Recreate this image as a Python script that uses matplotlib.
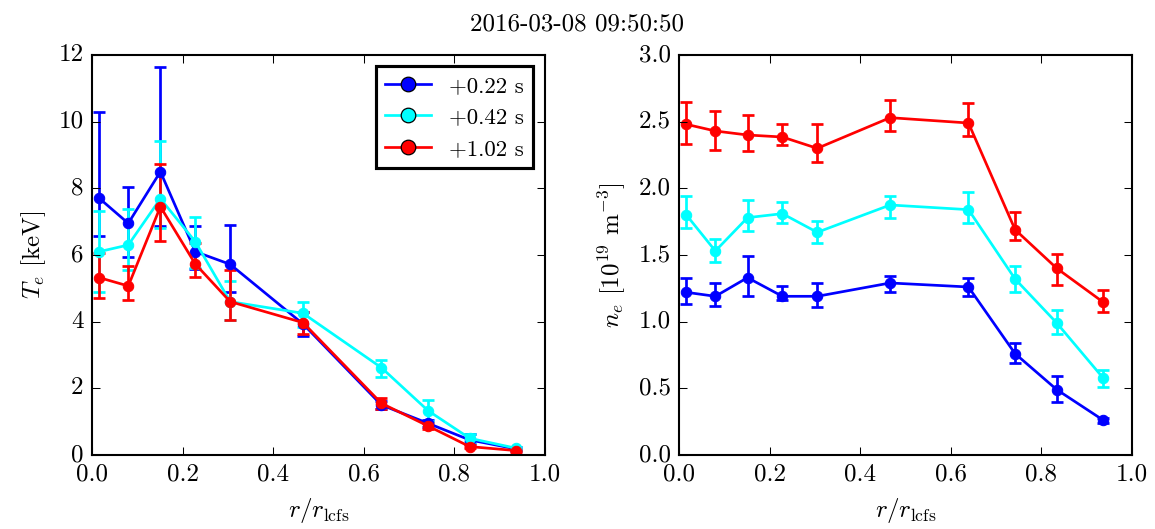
import matplotlib
matplotlib.use("Agg")
import matplotlib.pyplot as plt
from matplotlib.lines import Line2D

# radial positions (normalised)
r = [0.016, 0.080, 0.151, 0.228, 0.305, 0.466, 0.639, 0.742, 0.834, 0.937]

labels = ["+0.22 s", "+0.42 s", "+1.02 s"]
colors = ["#0000FF", "#00FFFF", "#FF0000"]

# electron temperature [keV]
te = [
    [7.70, 6.95, 8.50, 6.10, 5.72, 3.93, 1.50, 0.95, 0.45, 0.18],
    [6.10, 6.30, 7.69, 6.40, 4.60, 4.25, 2.62, 1.33, 0.50, 0.20],
    [5.32, 5.07, 7.45, 5.73, 4.60, 3.97, 1.55, 0.87, 0.25, 0.13],
]
te_lo = [
    [1.12, 1.02, 1.63, 0.53, 0.82, 0.36, 0.12, 0.10, 0.12, 0.05],
    [1.20, 0.75, 0.89, 0.80, 0.55, 0.40, 0.29, 0.30, 0.12, 0.05],
    [0.62, 0.42, 1.02, 0.40, 0.55, 0.35, 0.18, 0.08, 0.05, 0.03],
]
te_hi = [
    [2.58, 1.10, 3.13, 0.77, 1.18, 0.36, 0.12, 0.10, 0.17, 0.05],
    [1.23, 1.07, 1.73, 0.75, 0.62, 0.35, 0.23, 0.32, 0.12, 0.05],
    [0.75, 0.61, 1.28, 0.62, 0.95, 0.31, 0.17, 0.08, 0.05, 0.03],
]

# electron density [1e19 m^-3]
ne = [
    [1.22, 1.19, 1.33, 1.19, 1.19, 1.29, 1.26, 0.76, 0.49, 0.26],
    [1.80, 1.53, 1.78, 1.81, 1.67, 1.875, 1.84, 1.32, 0.99, 0.575],
    [2.48, 2.43, 2.40, 2.385, 2.30, 2.53, 2.49, 1.69, 1.40, 1.145],
]
ne_lo = [
    [0.09, 0.07, 0.14, 0.03, 0.08, 0.07, 0.07, 0.07, 0.09, 0.02],
    [0.10, 0.08, 0.10, 0.07, 0.08, 0.095, 0.10, 0.095, 0.08, 0.065],
    [0.15, 0.14, 0.12, 0.06, 0.10, 0.10, 0.10, 0.08, 0.125, 0.075],
]
ne_hi = [
    [0.11, 0.10, 0.16, 0.08, 0.10, 0.055, 0.07, 0.08, 0.10, 0.02],
    [0.14, 0.09, 0.13, 0.09, 0.085, 0.065, 0.13, 0.10, 0.10, 0.065],
    [0.17, 0.15, 0.15, 0.095, 0.18, 0.13, 0.15, 0.13, 0.11, 0.095],
]

plt.style.use("classic")
plt.rcParams["font.family"] = "serif"
plt.rcParams["font.serif"] = ["cmr10"]
plt.rcParams["mathtext.fontset"] = "cm"
plt.rcParams["axes.unicode_minus"] = False
plt.rcParams["font.size"] = 12

fig = plt.figure(figsize=(7.7, 529 / 150), dpi=150)
fig.patch.set_facecolor("white")
ax1 = fig.add_axes([0.0797, 0.140, 0.392, 0.756])
ax2 = fig.add_axes([0.588, 0.140, 0.392, 0.756])

for i in range(3):
    ax1.errorbar(r, te[i], yerr=[te_lo[i], te_hi[i]], color=colors[i],
                 ecolor=colors[i], marker="o", mec=colors[i], ms=5, lw=1.3,
                 elinewidth=1.3, capsize=3, capthick=1.3)
    ax2.errorbar(r, ne[i], yerr=[ne_lo[i], ne_hi[i]], color=colors[i],
                 ecolor=colors[i], marker="o", mec=colors[i], ms=5, lw=1.3,
                 elinewidth=1.3, capsize=3, capthick=1.3)

ax1.set_xlim(0, 1)
ax1.set_ylim(0, 12)
ax2.set_xlim(0, 1)
ax2.set_ylim(0, 3)
ax1.set_xlabel(r"$r/r_\mathrm{lcfs}$")
ax2.set_xlabel(r"$r/r_\mathrm{lcfs}$")
ax1.set_ylabel(r"$T_e$ [keV]")
ax2.set_ylabel(r"$n_e$ [$10^{19}$ m$^{-3}$]")

handles = [Line2D([], [], color=c, marker="o", mec="k", mew=0.6, ms=7, lw=1.3)
           for c in colors]
leg = ax1.legend(handles, labels, loc="upper right", numpoints=1,
                 fancybox=False, fontsize=11, borderaxespad=0.5,
                 handlelength=2.0, handletextpad=0.8, labelspacing=0.5)
leg.get_frame().set_linewidth(1.5)

fig.suptitle("2016-03-08 09:50:50", y=0.975, fontsize=12)

fig.savefig("out.png", dpi=150, facecolor="white")
